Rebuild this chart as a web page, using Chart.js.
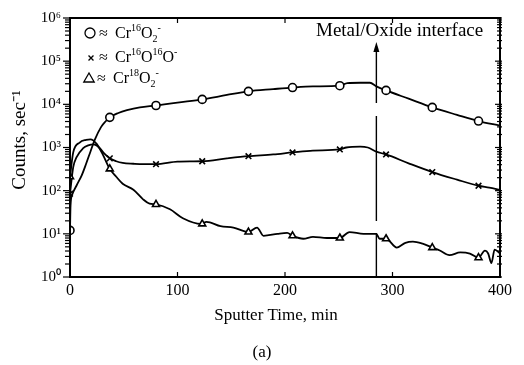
<!DOCTYPE html>
<html>
<head>
<meta charset="utf-8">
<script src="https://cdn.jsdelivr.net/npm/chart.js@4.4.1/dist/chart.umd.min.js"></script>
<style>
html,body{margin:0;padding:0;background:#fff;}
#wrap{width:524px;height:365px;}
</style>
</head>
<body>
<div id="wrap"><canvas id="c" width="524" height="365"></canvas></div>
<script>
// ---------- data ----------
// Cr16O2- (open circles)
const circleTimes  = [0, 0.5, 2, 6, 11, 15, 19, 23, 29, 33, 37, 45, 53, 65, 80, 100, 123, 146, 166, 189, 207, 226, 251, 258, 270, 279, 285, 294, 315, 337, 360, 380, 400];
const circleCounts = [12, 45, 80, 130, 230, 420, 800, 1500, 3000, 4000, 5000, 6300, 7300, 8500, 9400, 11000, 13000, 16500, 20000, 22500, 24500, 26000, 27000, 31000, 31600, 31600, 26000, 21000, 13500, 8500, 5700, 4100, 3200];
// Cr16O16O- (crosses)
const crossTimes  = [0, 3, 6, 12, 17, 22, 27, 32, 37, 43, 49, 59, 68, 80, 100, 123, 146, 166, 189, 207, 226, 251, 257, 270, 277, 285, 294, 315, 337, 360, 380, 390, 400];
const crossCounts = [85, 350, 590, 950, 1120, 1180, 1000, 720, 560, 480, 440, 420, 410, 410, 470, 480, 560, 630, 690, 770, 850, 900, 1000, 1050, 1000, 800, 690, 430, 270, 180, 130, 118, 105];
// Cr18O2- (triangles)
const triTimes  = [0, 3, 9, 15, 19, 25, 31, 37, 43, 49, 59, 68, 74, 80, 93, 105, 122, 127, 140, 152, 166, 174, 180, 193, 202, 207, 217, 226, 239, 251, 260, 273, 285, 288, 294, 304, 312, 319, 328, 337, 344, 353, 363, 372, 380, 386, 389, 392, 395, 400];
const triCounts = [210, 770, 1300, 1500, 1550, 1200, 650, 320, 210, 145, 105, 63, 50, 48, 37, 23, 17, 19, 15, 14, 11, 14, 9, 10, 10.5, 9, 7.7, 8.5, 8, 8, 11, 10, 10, 7.7, 7.7, 4.8, 6.2, 6.6, 5.9, 4.8, 4.1, 3.2, 3.7, 3.5, 2.8, 4.1, 3.5, 2.1, 4.3, 3.5];
// marker positions
const markerTimes   = [0, 37, 80, 123, 166, 207, 251, 294, 337, 380];
const circleMarkers = [12, 5000, 9400, 13000, 20000, 24500, 27000, 21000, 8500, 4100];
const crossMarkers  = [85, 560, 410, 480, 630, 770, 900, 690, 270, 130];
const triMarkers    = [210, 320, 48, 17, 11, 9, 8, 7.7, 4.8, 2.8];
// axes
const xTickValues = [0, 100, 200, 300, 400];
const yDecades    = [0, 1, 2, 3, 4, 5, 6];
const interfaceTime = 285;
const interfaceLabel = 'Metal/Oxide interface';
const xTitle = 'Sputter Time, min';
const yTitle = 'Counts, sec⁻¹';
const panelLabel = '(a)';

// ---------- chart ----------
const FONT = "'Liberation Serif', 'Times New Roman', serif";
const SUP = {'0':'⁰','1':'¹','2':'²','3':'³','4':'⁴','5':'⁵','6':'⁶','7':'⁷','8':'⁸','9':'⁹'};
const toXY = (ts, vs) => ts.map((t, i) => ({x: t, y: vs[i]}));

function curve(label, ts, vs) {
  return {label, data: toXY(ts, vs), borderColor: '#000', borderWidth: 1.8,
    pointRadius: 0, cubicInterpolationMode: 'monotone', fill: false, order: 2};
}
function markers(label, vs, style) {
  return {type: 'scatter', label, data: toXY(markerTimes, vs), showLine: false,
    pointStyle: style, pointRadius: 4, pointBorderWidth: 1.6, borderColor: '#000',
    backgroundColor: '#fff', order: 1};
}

function drawRich(ctx, x, y, parts, size) {
  let cx = x;
  for (const [txt, mode] of parts) {
    if (mode === 'sup') {
      ctx.font = `${Math.round(size * 0.62)}px ${FONT}`;
      ctx.fillText(txt, cx, y - size * 0.42);
    } else if (mode === 'sub') {
      ctx.font = `${Math.round(size * 0.62)}px ${FONT}`;
      ctx.fillText(txt, cx, y + size * 0.22);
    } else {
      ctx.font = `${size}px ${FONT}`;
      ctx.fillText(txt, cx, y);
    }
    cx += ctx.measureText(txt).width;
  }
}

const decor = {
  id: 'decor',
  afterDraw(chart) {
    const {ctx, chartArea: a, scales: {x, y}} = chart;
    ctx.save();
    ctx.strokeStyle = '#000';
    ctx.fillStyle = '#000';
    const line = (x1, y1, x2, y2) => { ctx.beginPath(); ctx.moveTo(x1, y1); ctx.lineTo(x2, y2); ctx.stroke(); };
    // frame
    ctx.lineWidth = 2;
    ctx.strokeRect(a.left, a.top, a.right - a.left, a.bottom - a.top);
    // y ticks (log)
    ctx.lineWidth = 1.2;
    for (const e of yDecades) {
      for (let m = 1; m < 10; m++) {
        if (e === 6 && m > 1) break;
        const py = y.getPixelForValue(m * Math.pow(10, e));
        const L = m === 1 ? 7 : 5;
        line(a.left - L, py, a.left, py);
        line(a.right - (m === 1 ? 5 : 3), py, a.right + 2, py);
      }
    }
    // x ticks
    for (const t of xTickValues) {
      const px = x.getPixelForValue(t);
      line(px, a.bottom, px, a.bottom - 5);
      line(px, a.top, px, a.top + 5);
    }
    // interface dashed line + arrow
    const ix = x.getPixelForValue(interfaceTime);
    ctx.lineWidth = 1.4;
    ctx.setLineDash([57, 13, 105, 12, 60]);
    line(ix, 46, ix, a.bottom);
    ctx.setLineDash([]);
    ctx.beginPath();
    ctx.moveTo(ix, 42); ctx.lineTo(ix - 3, 52); ctx.lineTo(ix + 3, 52); ctx.closePath(); ctx.fill();
    // annotation text
    ctx.textAlign = 'left'; ctx.textBaseline = 'alphabetic';
    ctx.font = `19px ${FONT}`;
    ctx.fillText(interfaceLabel, 316, 36);
    // legend symbols
    const sym = (style, px, py, r) => {
      ctx.lineWidth = 1.3; ctx.fillStyle = '#fff';
      Chart.helpers.drawPoint(ctx, {pointStyle: style, radius: r, rotation: 0, borderWidth: 1.3}, px, py);
      ctx.fillStyle = '#000';
    };
    sym('circle', 90, 33, 5);
    sym('crossRot', 91, 58, 3.5);
    sym('triangle', 89, 79, 6);
    // legend text
    const LS = 16;
    ctx.font = `${LS}px ${FONT}`;
    ctx.fillText('≈', 99, 38);
    drawRich(ctx, 115, 38, [['Cr'], ['16', 'sup'], ['O'], ['2', 'sub'], ['-', 'sup']], LS);
    ctx.font = `${LS}px ${FONT}`;
    ctx.fillText('≈', 99, 62);
    drawRich(ctx, 115, 62, [['Cr'], ['16', 'sup'], ['O'], ['16', 'sup'], ['O'], ['-', 'sup']], LS);
    ctx.font = `${LS}px ${FONT}`;
    ctx.fillText('≈', 97, 83);
    drawRich(ctx, 113, 83, [['Cr'], ['18', 'sup'], ['O'], ['2', 'sub'], ['-', 'sup']], LS);
    // axis titles
    ctx.textAlign = 'center'; ctx.textBaseline = 'middle';
    ctx.font = `17px ${FONT}`;
    ctx.fillText(xTitle, 276, 316);
    ctx.fillText(panelLabel, 262, 353);
    ctx.save();
    ctx.translate(20, 140);
    ctx.rotate(-Math.PI / 2);
    ctx.font = `19px ${FONT}`;
    ctx.fillText(yTitle, 0, 0);
    ctx.restore();
    ctx.restore();
  }
};

new Chart(document.getElementById('c'), {
  type: 'line',
  data: {
    datasets: [
      curve('Cr16O2- curve', circleTimes, circleCounts),
      curve('Cr16O16O- curve', crossTimes, crossCounts),
      curve('Cr18O2- curve', triTimes, triCounts),
      markers('Cr16O2-', circleMarkers, 'circle'),
      markers('Cr16O16O-', crossMarkers, 'crossRot'),
      markers('Cr18O2-', triMarkers, 'triangle')
    ]
  },
  options: {
    responsive: false,
    animation: false,
    layout: {padding: {top: 13, right: 24, left: 0, bottom: 0}},
    plugins: {legend: {display: false}, tooltip: {enabled: false}},
    scales: {
      x: {
        type: 'linear', min: 0, max: 400,
        afterBuildTicks(s) { s.ticks = xTickValues.map(v => ({value: v})); },
        ticks: {font: {family: FONT, size: 16}, color: '#000', padding: 4},
        grid: {display: false, drawTicks: false},
        border: {display: false},
        afterFit(s) { s.height = 88; }
      },
      y: {
        type: 'logarithmic', min: 1, max: 1e6,
        afterBuildTicks(s) { s.ticks = yDecades.map(e => ({value: Math.pow(10, e)})); },
        ticks: {
          autoSkip: false,
          font: {family: FONT, size: 15}, color: '#000', padding: 9,
          callback: (v) => {
            const e = Math.round(Math.log10(v));
            return '10' + String(e).split('').map(d => SUP[d]).join('');
          }
        },
        grid: {display: false, drawTicks: false},
        border: {display: false},
        afterFit(s) { s.width = 70; }
      }
    }
  },
  plugins: [decor]
});
</script>
</body>
</html>
